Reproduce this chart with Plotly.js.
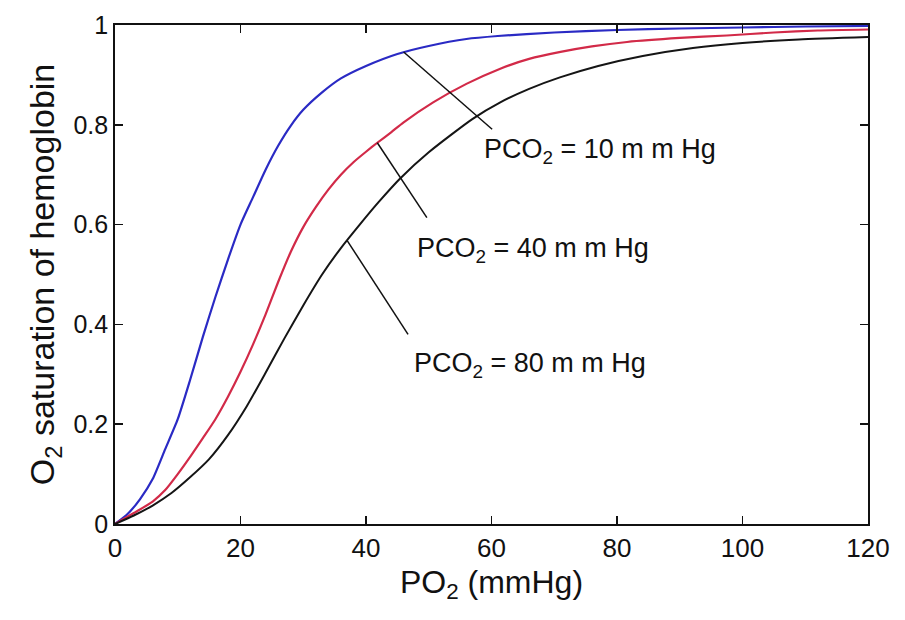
<!DOCTYPE html>
<html>
<head>
<meta charset="utf-8">
<script src="https://cdn.plot.ly/plotly-3.0.1.min.js"></script>
<style>
  html, body { margin: 0; padding: 0; background: #fff; }
  #chart { width: 905px; height: 620px; }
</style>
</head>
<body>
<div id="chart"></div>
<script>
// PO2 (mmHg) and O2 saturation for each PCO2 curve
const xBlue = [0, 2, 4, 6, 8, 10, 12, 14, 16, 18, 20, 22, 24, 26, 28, 30, 33, 36, 40, 45, 50, 56, 61, 70, 80, 90, 100, 110, 120];
const yBlue = [0, 0.02, 0.05, 0.09, 0.15, 0.21, 0.29, 0.375, 0.455, 0.53, 0.6, 0.655, 0.71, 0.758, 0.798, 0.83, 0.865, 0.893, 0.918, 0.942, 0.958, 0.972, 0.978, 0.985, 0.99, 0.993, 0.995, 0.997, 0.998];

const xRed = [0, 3, 6, 8, 10, 12, 14, 16, 18, 20, 22, 24, 26, 28, 30, 32, 34, 36, 38, 40, 41.8, 44, 46, 50.7, 56, 61.3, 66, 71, 76, 81.6, 90, 97.5, 105, 112, 120];
const yRed = [0, 0.022, 0.045, 0.068, 0.1, 0.135, 0.172, 0.21, 0.255, 0.305, 0.36, 0.42, 0.485, 0.545, 0.595, 0.635, 0.67, 0.7, 0.725, 0.746, 0.764, 0.785, 0.805, 0.845, 0.882, 0.912, 0.932, 0.946, 0.957, 0.966, 0.974, 0.979, 0.985, 0.989, 0.991];

const xBlack = [0, 3, 6, 9, 12, 15, 18, 21, 24, 27, 30, 33, 36, 39, 42, 45.4, 50, 57, 61.4, 66, 70.9, 77, 84.1, 92.1, 100, 109, 120];
const yBlack = [0, 0.017, 0.037, 0.062, 0.094, 0.13, 0.178, 0.236, 0.303, 0.372, 0.438, 0.5, 0.553, 0.6, 0.645, 0.692, 0.745, 0.812, 0.845, 0.872, 0.895, 0.918, 0.938, 0.954, 0.964, 0.971, 0.976];

// curve labels and their leader lines (data coordinates)
const labelTexts = ["PCO<sub>2</sub> = 10 m m Hg", "PCO<sub>2</sub> = 40 m m Hg", "PCO<sub>2</sub> = 80 m m Hg"];
const labelX = [58.5, 47.8, 47.3];
const labelY = [0.747, 0.55, 0.319];
const leaderX0 = [46, 41.8, 37];
const leaderY0 = [0.946, 0.764, 0.568];
const leaderX1 = [60.1, 49.7, 46.7];
const leaderY1 = [0.791, 0.614, 0.38];

const xTicks = [0, 20, 40, 60, 80, 100, 120];
const yTicks = [0, 0.2, 0.4, 0.6, 0.8, 1];

const FONT = "Arial, 'Liberation Sans', Helvetica, sans-serif";

const traces = [
  { x: xBlue, y: yBlue, mode: "lines", line: { color: "#2a2ac4", width: 2.2, shape: "spline", smoothing: 0.6 }, name: "10" },
  { x: xRed, y: yRed, mode: "lines", line: { color: "#d22a48", width: 2.2, shape: "spline", smoothing: 0.6 }, name: "40" },
  { x: xBlack, y: yBlack, mode: "lines", line: { color: "#151515", width: 2, shape: "spline", smoothing: 0.6 }, name: "80" }
];

const shapes = leaderX0.map((x0, i) => ({
  type: "line", xref: "x", yref: "y",
  x0: x0, y0: leaderY0[i], x1: leaderX1[i], y1: leaderY1[i],
  line: { color: "#111", width: 1.5 }
}));

const annotations = labelTexts.map((t, i) => ({
  x: labelX[i], y: labelY[i], xref: "x", yref: "y",
  text: t, showarrow: false, xanchor: "left", yanchor: "middle",
  font: { family: FONT, size: 27, color: "#111" }
}));

const axisCommon = {
  showline: true, linecolor: "#111", linewidth: 1.8, mirror: "ticks",
  ticks: "inside", ticklen: 8, tickwidth: 1.5, tickcolor: "#111",
  showgrid: false, zeroline: false, fixedrange: true
};

const layout = {
  width: 905, height: 620,
  margin: { l: 115, r: 37, t: 25, b: 96 },
  paper_bgcolor: "#fff", plot_bgcolor: "#fff",
  showlegend: false,
  font: { family: FONT, color: "#111" },
  xaxis: Object.assign({}, axisCommon, {
    range: [0, 120], tickvals: xTicks, ticktext: xTicks.map(String),
    tickfont: { family: FONT, size: 26, color: "#111" },
    title: { text: "PO<sub>2</sub> (mmHg)", font: { family: FONT, size: 32, color: "#111" }, standoff: 8 }
  }),
  yaxis: Object.assign({}, axisCommon, {
    range: [0, 1], tickvals: yTicks, ticktext: yTicks.map(String),
    tickfont: { family: FONT, size: 25, color: "#111" },
    title: { text: "O<sub>2</sub> saturation of hemoglobin", font: { family: FONT, size: 34, color: "#111" }, standoff: 8 }
  }),
  shapes: shapes,
  annotations: annotations
};

Plotly.newPlot("chart", traces, layout, { displayModeBar: false, staticPlot: true });
</script>
</body>
</html>
